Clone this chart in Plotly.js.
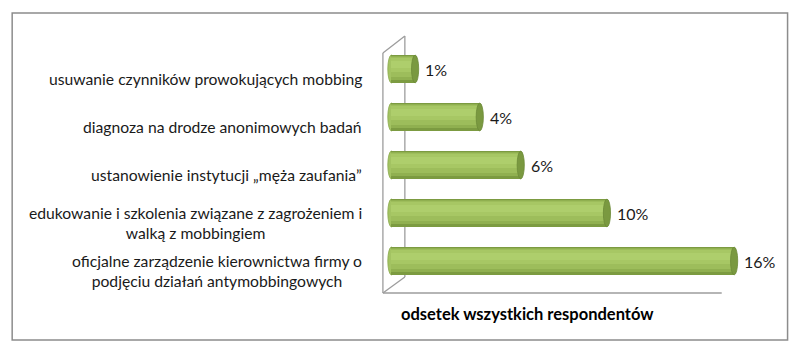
<!DOCTYPE html>
<html><head><meta charset="utf-8">
<script src="https://cdn.plot.ly/plotly-3.0.1.min.js"></script>
<style>html,body{margin:0;padding:0;background:#fff}</style>
</head><body><div id="chart" style="width:800px;height:354px"></div>
<script>
const categories = [
  "usuwanie czynników prowokujących mobbing",
  "diagnoza na drodze anonimowych badań",
  "ustanowienie instytucji „męża zaufania”",
  "edukowanie i szkolenia związane z zagrożeniem i<br>walką z mobbingiem",
  "oficjalne zarządzenie kierownictwa firmy o<br>podjęciu działań antymobbingowych"
];
const values = [1.1, 4.1, 6, 10, 15.9];
const valueLabels = ["1%", "4%", "6%", "10%", "16%"];
const axisTitle = "odsetek wszystkich respondentów";

const W = 800, H = 354;
const M = {l: 385.6, r: 25.6, t: 45, b: 69};
const PW = W - M.l - M.r, PH = H - M.t - M.b;
const px = x => (x - M.l) / PW;
const py = y => (H - M.b - y) / PH;

const idx = categories.map((_, i) => i);
const T = 0.58; // cylinder thickness in category units
const bands = [
  {a: 0.00, b: 1.00, c: '#7C9B41'},
  {a: 0.04, b: 0.90, c: '#90B050'},
  {a: 0.07, b: 0.78, c: '#9DBD5B'},
  {a: 0.12, b: 0.62, c: '#A7C764'},
  {a: 0.20, b: 0.48, c: '#AECE6C'}
];
const traces = bands.map(bd => ({
  type: 'bar', orientation: 'h', x: values, y: idx,
  width: T * (bd.b - bd.a), offset: -T / 2 + T * bd.a,
  marker: {color: bd.c, line: {width: 0}},
  hoverinfo: 'skip', showlegend: false
}));

const dx = 3.6 / (PW / 18);
const shapes = [];
shapes.push({type: 'rect', xref: 'paper', yref: 'paper', x0: px(11), x1: px(788), y0: py(340), y1: py(13),
  line: {color: '#8C8C8C', width: 1.5}, layer: 'below'});
const fl = {color: '#9C9C9C', width: 1.3};
const seg = (x0, y0, x1, y1) => shapes.push({type: 'line', xref: 'paper', yref: 'paper',
  x0: px(x0), y0: py(y0), x1: px(x1), y1: py(y1), line: fl, layer: 'below'});
seg(404.5, 36, 404.5, 277);
seg(382.5, 53, 382.5, 293);
seg(382.5, 53, 404.5, 36);
seg(382.5, 293, 404.5, 277);
seg(382.5, 293, 722, 293);
values.forEach((v, i) => {
  shapes.push({type: 'circle', xref: 'x', yref: 'y', x0: -dx, x1: dx, y0: i - T / 2, y1: i + T / 2,
    fillcolor: '#A3C362', line: {color: '#8AA94C', width: 0.8}, layer: 'below'});
  shapes.push({type: 'circle', xref: 'x', yref: 'y', x0: v - dx, x1: v + dx, y0: i - T / 2, y1: i + T / 2,
    fillcolor: '#7A9940', line: {color: '#6C8A37', width: 0.8}, layer: 'above'});
});

const annotations = [];
categories.forEach((c, i) => annotations.push({
  xref: 'paper', yref: 'y', x: px(364), y: i, xanchor: 'right', yanchor: 'middle', yshift: -10,
  text: c, showarrow: false, align: 'center', font: {family: 'Lato', size: 15.7, color: '#1a1a1a'}
}));
values.forEach((v, i) => annotations.push({
  xref: 'x', yref: 'y', x: v, y: i, xanchor: 'left', yanchor: 'middle', xshift: 8,
  text: valueLabels[i], showarrow: false, font: {family: 'Lato', size: 16, color: '#1a1a1a'}
}));
annotations.push({xref: 'paper', yref: 'paper', x: px(527), y: py(314), xanchor: 'center', yanchor: 'middle',
  text: '<b>' + axisTitle + '</b>', showarrow: false, font: {family: 'Lato', size: 16.5, color: '#000'}});

const layout = {
  width: W, height: H, margin: M, paper_bgcolor: '#fff', plot_bgcolor: 'rgba(0,0,0,0)',
  barmode: 'overlay', bargap: 0,
  xaxis: {range: [-0.25, 17.75], showgrid: false, zeroline: false, showticklabels: false, ticks: '', showline: false},
  yaxis: {range: [4.5, -0.5], showgrid: false, zeroline: false, showticklabels: false, ticks: '', showline: false},
  shapes: shapes, annotations: annotations, showlegend: false
};
Plotly.newPlot('chart', traces, layout, {displayModeBar: false, staticPlot: true});
</script></body></html>
